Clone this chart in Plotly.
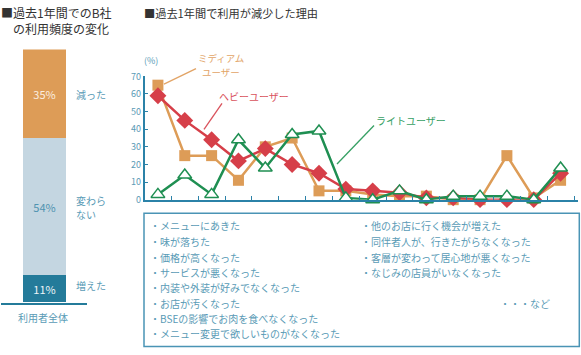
import plotly.graph_objects as go

W, H = 581, 355
FONT = "Noto Sans CJK JP"

# ---------------- data ----------------
bar_labels = ["増えた", "変わら<br>ない", "減った"]
bar_values = [11, 54, 35]
bar_category = ["利用者全体"]

reason_index = list(range(16))
heavy = [59, 45, 34, 22, 29, 20, 15, 6, 5, 4, 1, 1, 0, 0, 0, 15]
medium = [65, 25, 25, 11, 30, 35, 5, 5, 3, 2, 2, 0, 0, 25, 1, 11]
light = [3, 14, 3, 34, 18, 37, 39, 1, 0, 5, 0, 2, 2, 2, 0, 18]
y_ticks = [0, 10, 20, 30, 40, 50, 60, 70]

reasons_left = ["・メニューにあきた", "・味が落ちた", "・価格が高くなった", "・サービスが悪くなった",
                "・内装や外装が好みでなくなった", "・お店が汚くなった",
                "・BSEの影響でお肉を食べなくなった", "・メニュー変更で欲しいものがなくなった"]
reasons_right = ["・他のお店に行く機会が増えた", "・同伴者人が、行きたがらなくなった",
                 "・客層が変わって居心地が悪くなった", "・なじみの店員がいなくなった"]

# ---------------- styles ----------------
ORANGE = "#dd9c57"
RED = "#d63f49"
GREEN = "#1f8f52"
LBLUE = "#c4d6e1"
TEAL = "#247b9a"
TXT = "#5a9bb6"
AXIS = "#2b82a8"


def px(x):
    return x / W


def py(y):
    return 1 - y / H


fig = go.Figure()

# stacked bar (left panel)
bar_colors = [TEAL, LBLUE, ORANGE]
bar_text_colors = ["#eef5f8", "#4f93b0", "#fbeee0"]
for v, c, tc in zip(bar_values, bar_colors, bar_text_colors):
    fig.add_trace(go.Bar(
        x=bar_category, y=[v], marker=dict(color=c, line=dict(width=0)),
        width=0.5, text=[f"{v}%"], textposition="inside", insidetextanchor="middle",
        textangle=0, textfont=dict(color=tc, size=11, family=FONT),
        xaxis="x2", yaxis="y2", hoverinfo="skip", showlegend=False))

# line chart (right panel)
fig.add_trace(go.Scatter(
    x=reason_index, y=medium, mode="lines+markers", cliponaxis=False,
    line=dict(color=ORANGE, width=2.5),
    marker=dict(symbol="square", size=11, color=ORANGE), showlegend=False))
fig.add_trace(go.Scatter(
    x=reason_index, y=heavy, mode="lines+markers", cliponaxis=False,
    line=dict(color=RED, width=2.5),
    marker=dict(symbol="diamond", size=13, color=RED), showlegend=False))
fig.add_trace(go.Scatter(
    x=reason_index, y=light, mode="lines+markers", cliponaxis=False,
    line=dict(color=GREEN, width=2.5),
    marker=dict(symbol="triangle-up", size=12, color="white", line=dict(color=GREEN, width=1.5)),
    showlegend=False))

fig.update_layout(
    width=W, height=H, margin=dict(l=0, r=0, t=0, b=0),
    paper_bgcolor="white", plot_bgcolor="rgba(0,0,0,0)",
    barmode="stack", bargap=0,
    font=dict(family=FONT, color=TXT),
    xaxis=dict(domain=[px(144.5), px(577.5)], range=[-0.5, 15.63],
               showline=True, linecolor=AXIS, linewidth=1.5,
               tickvals=[i + 0.5 for i in reason_index], ticks="inside", ticklen=4,
               tickcolor=AXIS, tickwidth=1, showticklabels=False,
               showgrid=False, zeroline=False),
    yaxis=dict(domain=[py(200), py(72)], range=[0, 70],
               showline=True, linecolor=AXIS, linewidth=1.5,
               tickvals=y_ticks, ticks="inside", ticklen=4, tickcolor=AXIS,
               tickfont=dict(size=9, color=TXT, family=FONT),
               showgrid=False, zeroline=False),
    xaxis2=dict(domain=[px(1), px(87)], range=[-0.5, 0.5], anchor="y2",
                showline=True, linecolor=TEAL, linewidth=1.5, showticklabels=False,
                ticks="", showgrid=False, zeroline=False, type="category"),
    yaxis2=dict(domain=[py(307), py(44)], range=[0, 100], anchor="x2",
                visible=False, showgrid=False, zeroline=False),
)

ann = []


def text(x, y, s, size=10, color=TXT, xanchor="left", align="left"):
    ann.append(dict(x=px(x), y=py(y), xref="paper", yref="paper", text=s,
                    showarrow=False, xanchor=xanchor, yanchor="middle", align=align,
                    font=dict(size=size, color=color, family=FONT)))


# titles
text(-1, 13.5, "■過去1年間でのB社<br>　の利用頻度の変化", size=12, color="#333333")
text(142, 6.5, "■過去1年間で利用が減少した理由", size=11.2, color="#333333")

# bar side labels
text(74, 90.5, "減った", size=10)
text(74, 200.5, "変わら", size=10)
text(74, 215.5, "ない", size=10)
text(74, 289.5, "増えた", size=10)
text(43, 322.5, bar_category[0], size=10, xanchor="center")

# chart unit
text(142, 55.5, "(%)", size=9)

# series labels
text(221, 53, "ミディアム", size=9.5, color="#e2a466", xanchor="center", align="center")
text(221, 67, "ユーザー", size=9.5, color="#e2a466", xanchor="center", align="center")
text(253.5, 93, "ヘビーユーザー", size=10, color="#d9525c", xanchor="center")
text(411, 118, "ライトユーザー", size=10, color="#36a064", xanchor="center")

# reasons box text
row_y = [227.3, 243.7, 260, 275.6, 291.5, 307.5, 323.4, 339.2]
for s, y in zip(reasons_left, row_y):
    text(148, y, s, size=10)
for s, y in zip(reasons_right, row_y):
    text(359, y, s, size=10)
text(498, 307.5, "・・・など", size=10)

fig.update_layout(annotations=ann)

shapes = [
    dict(type="rect", xref="paper", yref="paper", x0=px(144), x1=px(579.3),
         y0=py(352.3), y1=py(214), line=dict(color="#4a94b5", width=1.5)),
    dict(type="line", xref="paper", yref="paper", x0=px(164), y0=py(80), x1=px(196), y1=py(64),
         line=dict(color="#e2a466", width=1.3)),
    dict(type="line", xref="paper", yref="paper", x0=px(204), y0=py(127), x1=px(222), y1=py(100),
         line=dict(color="#d9525c", width=1.3)),
    dict(type="line", xref="paper", yref="paper", x0=px(337), y0=py(163), x1=px(374), y1=py(123),
         line=dict(color="#36a064", width=1.3)),
]
fig.update_layout(shapes=shapes)

fig.write_html("out.html", config={"displayModeBar": False},
               post_script="document.body.style.margin='0';document.body.style.overflow='hidden';")
